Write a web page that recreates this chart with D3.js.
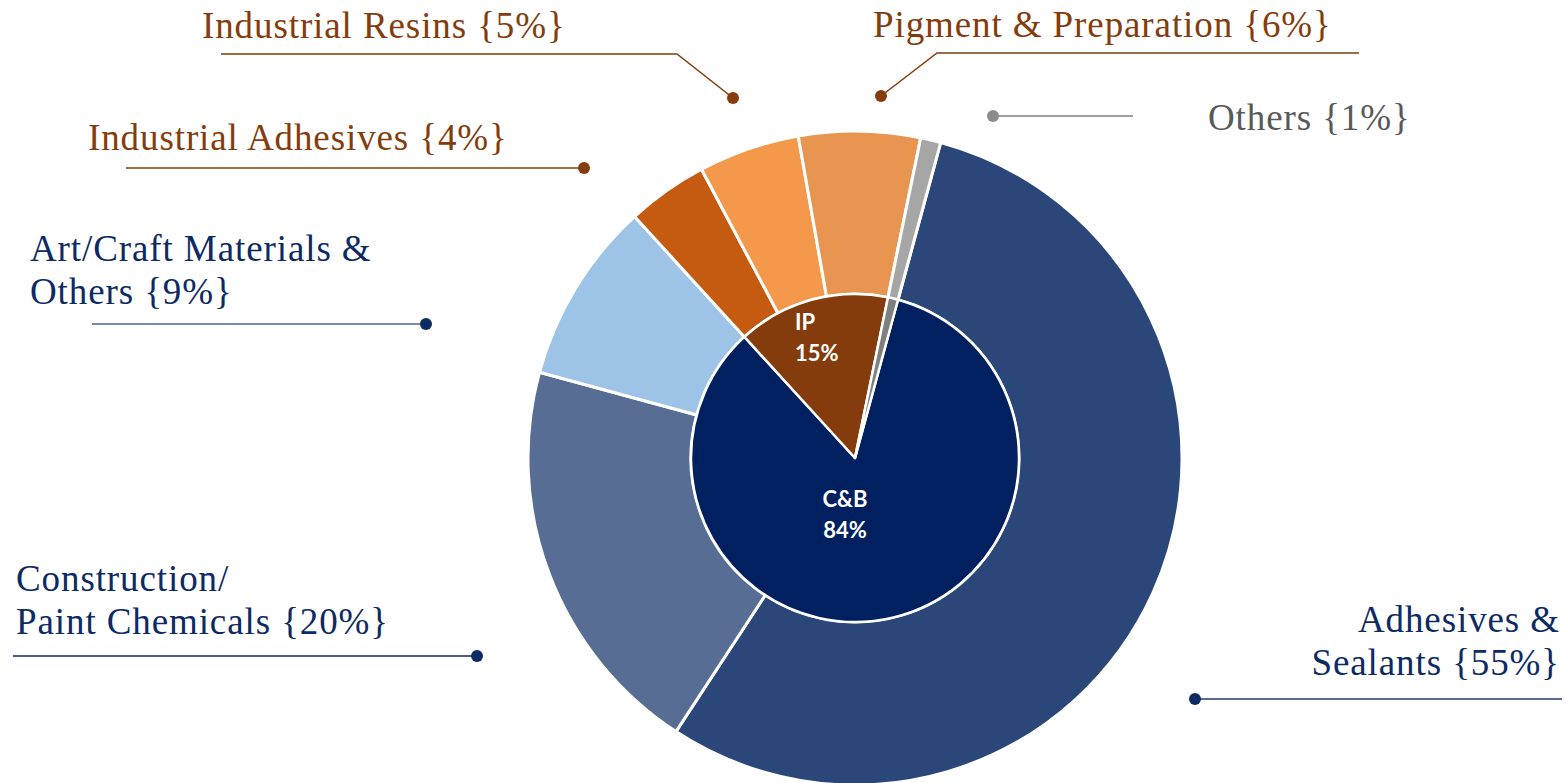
<!DOCTYPE html>
<html>
<head>
<meta charset="utf-8">
<script src="https://cdn.jsdelivr.net/npm/d3@7"></script>
<style>
  html, body { margin: 0; padding: 0; background: #fff; }
  svg { display: block; }
</style>
</head>
<body>
<svg id="chart" width="1566" height="783"></svg>
<script>
// Outer ring: sub-segments (clockwise from first slice)
const outerNames = ['Adhesives & Sealants', 'Construction/ Paint Chemicals', 'Art/Craft Materials & Others',
  'Industrial Adhesives', 'Industrial Resins', 'Pigment & Preparation', 'Others'];
const outerValues = [55, 20, 9, 4, 5, 6, 1];
const outerColours = ['#2b4679', '#586d93', '#9dc3e6', '#c55a11', '#f4994b', '#e89552', '#a6a6a6'];

// Inner pie: segments
const innerNames = ['C&B', 'IP', 'Others'];
const innerValues = [84, 15, 1];
const innerColours = ['#002060', '#843c0c', '#7f7f7f'];

// Callout labels for the outer ring
const labelLines = [
  ['Adhesives &', 'Sealants {55%}'],
  ['Construction/', 'Paint Chemicals {20%}'],
  ['Art/Craft Materials &', 'Others {9%}'],
  ['Industrial Adhesives {4%}'],
  ['Industrial Resins {5%}'],
  ['Pigment & Preparation {6%}'],
  ['Others {1%}']
];

const svg = d3.select('#chart');
const cx = 855, cy = 458;
const rInner = 164, rOuter = 327;
const a0 = 15.2 * Math.PI / 180;

const pie = d3.pie().sort(null).value(d => d).startAngle(a0).endAngle(a0 + 2 * Math.PI);

const gChart = svg.append('g').attr('transform', `translate(${cx},${cy})`);

// Outer ring
const arcOuter = d3.arc().innerRadius(rInner).outerRadius(rOuter);
gChart.append('g').selectAll('path')
  .data(pie(outerValues))
  .join('path')
  .attr('d', arcOuter)
  .attr('fill', (d, i) => outerColours[i])
  .attr('stroke', '#fff')
  .attr('stroke-width', 3)
  .attr('stroke-linejoin', 'round');

// Inner pie
const arcInner = d3.arc().innerRadius(0).outerRadius(rInner);
gChart.append('g').selectAll('path')
  .data(pie(innerValues))
  .join('path')
  .attr('d', arcInner)
  .attr('fill', (d, i) => innerColours[i])
  .attr('stroke', '#fff')
  .attr('stroke-width', 2.5)
  .attr('stroke-linejoin', 'round');

// Inner labels
const innerLabelPos = [
  { x: 845, y: 507, anchor: 'middle' },
  { x: 795, y: 330, anchor: 'start' }
];
innerLabelPos.forEach((p, i) => {
  const t = svg.append('text')
    .attr('x', p.x).attr('y', p.y)
    .attr('text-anchor', p.anchor)
    .attr('fill', '#fff')
    .attr('font-family', 'Lato, "Open Sans", sans-serif')
    .attr('font-weight', 700)
    .attr('font-size', 22);
  t.append('tspan').attr('x', p.x).text(innerNames[i]);
  t.append('tspan').attr('x', p.x).attr('dy', 31).text(innerValues[i] + '%');
});

// Callout layout (annotation positions)
const callouts = [
  { tx: 1560, ty: 632, anchor: 'end', text: '#0c2a63', line: '#1f3a6e', dot: '#0c2a63',
    path: [[1195, 699], [1562, 699]] },
  { tx: 16, ty: 591, anchor: 'start', text: '#0c2a63', line: '#0c2a63', dot: '#0c2a63',
    path: [[477, 656], [13, 656]] },
  { tx: 30, ty: 261, anchor: 'start', text: '#0c2a63', line: '#4a6090', dot: '#0c2a63',
    path: [[426, 324], [92, 324]] },
  { tx: 88, ty: 150, anchor: 'start', text: '#843c0c', line: '#843c0c', dot: '#843c0c',
    path: [[584, 168], [126, 168]] },
  { tx: 202, ty: 38, anchor: 'start', text: '#843c0c', line: '#843c0c', dot: '#843c0c',
    path: [[733, 98], [677, 54], [221, 54]] },
  { tx: 873, ty: 37, anchor: 'start', text: '#843c0c', line: '#843c0c', dot: '#843c0c',
    path: [[881, 96], [937, 53], [1359, 53]] },
  { tx: 1208, ty: 130, anchor: 'start', text: '#595959', line: '#7f7f7f', dot: '#8c8c8c',
    path: [[993, 116], [1133, 116]] }
];

const gLabels = svg.append('g');
callouts.forEach((c, i) => {
  gLabels.append('path')
    .attr('d', d3.line()(c.path))
    .attr('fill', 'none')
    .attr('stroke', c.line)
    .attr('stroke-width', 1.5);
  gLabels.append('circle')
    .attr('cx', c.path[0][0]).attr('cy', c.path[0][1])
    .attr('r', 6)
    .attr('fill', c.dot);
  const t = gLabels.append('text')
    .attr('x', c.tx).attr('y', c.ty)
    .attr('text-anchor', c.anchor)
    .attr('fill', c.text)
    .attr('font-family', '"Liberation Serif", "DejaVu Serif", serif')
    .attr('font-size', 37)
    .attr('letter-spacing', 0.9);
  labelLines[i].forEach((s, j) => {
    t.append('tspan').attr('x', c.tx).attr('dy', j ? 43 : 0).text(s);
  });
});
</script>
</body>
</html>
